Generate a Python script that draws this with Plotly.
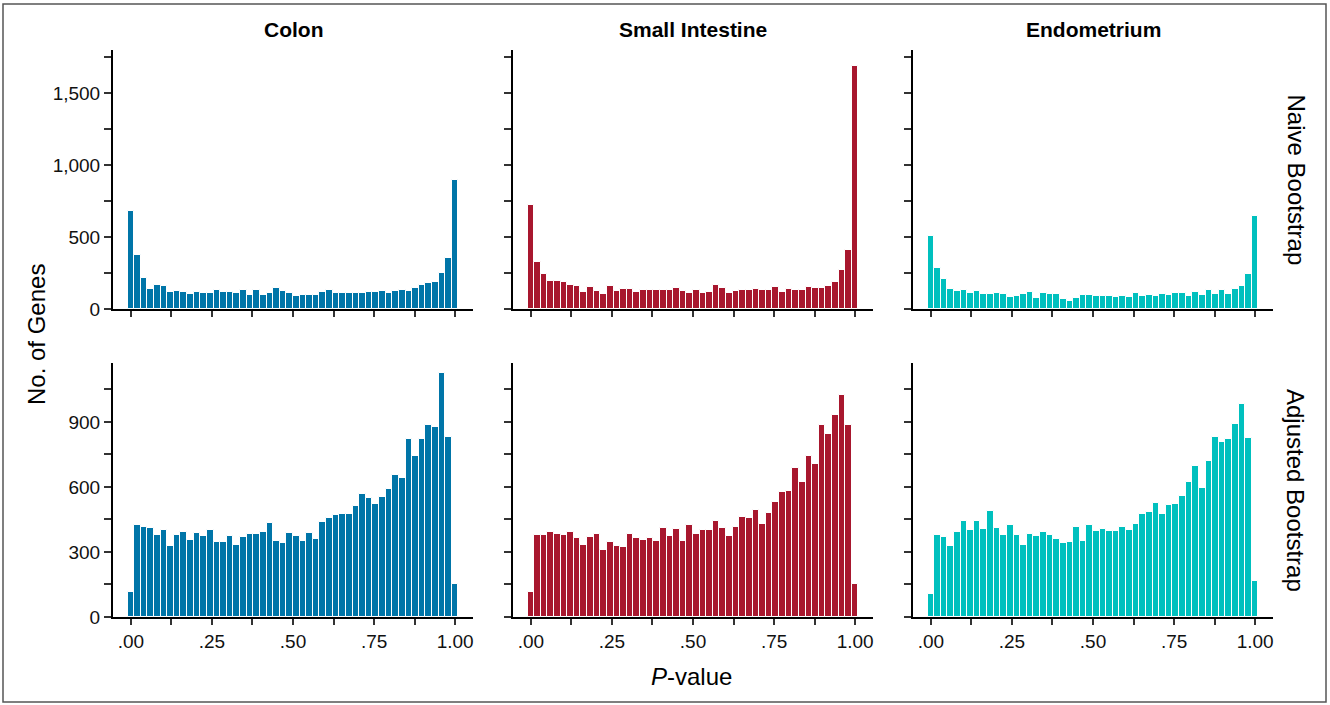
import plotly.graph_objects as go

# ---------------- data (counts per bin, 50 bins over P-value 0..1) ----------------
tissues = ["Colon", "Small Intestine", "Endometrium"]
methods = ["Naive Bootstrap", "Adjusted Bootstrap"]

colon_naive = [683, 377, 218, 141, 169, 162, 120, 127, 120, 106, 120, 113, 113, 134, 120, 120, 113, 134, 100, 134,
               100, 113, 148, 127, 113, 93, 100, 100, 100, 120, 134, 113, 113, 113, 113, 113, 120, 120, 127, 113,
               127, 134, 127, 148, 169, 183, 190, 252, 357, 898]
si_naive = [725, 329, 245, 197, 197, 190, 169, 162, 120, 155, 127, 106, 162, 127, 141, 141, 120, 134, 134, 134,
            134, 134, 148, 127, 113, 134, 113, 120, 169, 148, 113, 127, 134, 134, 141, 134, 134, 155, 120, 141,
            134, 134, 155, 148, 148, 162, 190, 273, 412, 1690]
endo_naive = [509, 287, 211, 141, 127, 134, 113, 127, 106, 106, 113, 106, 86, 93, 106, 120, 79, 113, 106, 106,
              72, 58, 79, 100, 100, 93, 93, 93, 86, 93, 86, 113, 93, 100, 93, 106, 100, 113, 113, 93,
              120, 100, 134, 106, 134, 106, 141, 162, 245, 648]

colon_adj = [117, 423, 414, 409, 377, 400, 326, 377, 391, 354, 386, 372, 400, 344, 344, 372, 330, 367, 381, 381,
             391, 432, 349, 340, 386, 372, 349, 386, 358, 437, 455, 469, 474, 474, 511, 567, 548, 520, 553, 590,
             655, 641, 821, 743, 821, 886, 877, 1127, 831, 150]
si_adj = [117, 377, 377, 391, 381, 377, 391, 363, 330, 367, 381, 307, 344, 326, 321, 381, 363, 354, 363, 349,
          409, 372, 405, 349, 423, 381, 400, 400, 442, 409, 372, 414, 460, 455, 493, 428, 479, 530, 576, 581,
          687, 622, 743, 706, 886, 845, 933, 1025, 886, 154]
endo_adj = [108, 377, 367, 326, 391, 442, 400, 442, 405, 488, 409, 377, 423, 377, 330, 381, 372, 391, 377, 358,
            340, 344, 414, 349, 423, 395, 405, 395, 395, 414, 400, 428, 474, 483, 525, 474, 516, 520, 557, 622,
            696, 594, 720, 831, 808, 821, 891, 984, 826, 164]

n_bins = 50
bin_width = 1 / (n_bins - 1)

x_tickvals = [0, 0.125, 0.25, 0.375, 0.5, 0.625, 0.75, 0.875, 1.0]
x_ticktext = [".00", "", ".25", "", ".50", "", ".75", "", "1.00"]
y_top_tickvals = [0, 250, 500, 750, 1000, 1250, 1500, 1750]
y_top_ticktext = ["0", "", "500", "", "1,000", "", "1,500", ""]
y_bot_tickvals = [0, 150, 300, 450, 600, 750, 900, 1050]
y_bot_ticktext = ["0", "", "300", "", "600", "", "900", ""]

colors = ["#0075A8", "#A8172E", "#00C0BE"]

# ---------------- layout geometry (pixels -> paper) ----------------
W, H = 1330, 705
col_px = [(113, 473), (513, 873), (913, 1273)]
row_px = [(50, 309), (363, 617)]


def px_x(v):
    return v / W


def px_y(v):
    return (H - v) / H


fig = go.Figure()

series = [[colon_naive, si_naive, endo_naive], [colon_adj, si_adj, endo_adj]]

font_family = "Liberation Sans, Arial, Helvetica, sans-serif"
axis_idx = 0
for r in range(2):
    for c in range(3):
        axis_idx += 1
        sfx = "" if axis_idx == 1 else str(axis_idx)
        fig.add_trace(go.Bar(
            x0=0, dx=bin_width, y=series[r][c], width=bin_width,
            marker=dict(color=colors[c], line=dict(color="white", width=1)),
            xaxis="x" + sfx, yaxis="y" + sfx, showlegend=False,
        ))
        xa = dict(
            domain=[px_x(col_px[c][0]), px_x(col_px[c][1])],
            range=[-0.055, 1.055],
            anchor="y" + sfx,
            showgrid=False, zeroline=False,
            showline=True, linecolor="black", linewidth=2,
            ticks="outside", ticklen=6, tickwidth=1.5, tickcolor="#333",
            tickvals=x_tickvals, ticktext=x_ticktext,
            showticklabels=(r == 1),
            tickfont=dict(size=19, color="#111", family=font_family),
            automargin=False,
        )
        if r == 0:
            yr = [0, 1800]
            tv, tt = y_top_tickvals, y_top_ticktext
        else:
            yr = [0, 1172]
            tv, tt = y_bot_tickvals, y_bot_ticktext
        ya = dict(
            domain=[px_y(row_px[r][1]), px_y(row_px[r][0])],
            range=yr,
            anchor="x" + sfx,
            showgrid=False, zeroline=False,
            showline=True, linecolor="black", linewidth=2,
            ticks="outside", ticklen=7, tickwidth=1.5, tickcolor="#333",
            tickvals=tv, ticktext=tt,
            showticklabels=(c == 0),
            tickfont=dict(size=19, color="#111", family=font_family),
            automargin=False,
        )
        fig.layout["xaxis" + sfx] = xa
        fig.layout["yaxis" + sfx] = ya

annotations = []
for c, name in enumerate(tissues):
    annotations.append(dict(
        text="<b>" + name + "</b>", x=px_x((col_px[c][0] + col_px[c][1]) / 2), y=px_y(30),
        xref="paper", yref="paper", showarrow=False, xanchor="center", yanchor="middle",
        font=dict(size=21, color="black", family=font_family),
    ))
for r, name in enumerate(methods):
    annotations.append(dict(
        text=name, x=px_x(1296), y=px_y((row_px[r][0] + row_px[r][1]) / 2),
        xref="paper", yref="paper", showarrow=False, xanchor="center", yanchor="middle",
        textangle=90, font=dict(size=24, color="black", family=font_family),
    ))
annotations.append(dict(
    text="No. of Genes", x=px_x(36), y=px_y(335),
    xref="paper", yref="paper", showarrow=False, xanchor="center", yanchor="middle",
    textangle=-90, font=dict(size=24, color="black", family=font_family),
))
annotations.append(dict(
    text="<i>P</i>-value", x=px_x(691), y=px_y(676),
    xref="paper", yref="paper", showarrow=False, xanchor="center", yanchor="middle",
    font=dict(size=24, color="black", family=font_family),
))

fig.update_layout(
    width=W, height=H,
    margin=dict(l=0, r=0, t=0, b=0),
    template="none",
    plot_bgcolor="white", paper_bgcolor="white",
    bargap=0,
    annotations=annotations,
    shapes=[dict(type="rect", xref="paper", yref="paper",
                 x0=px_x(3), x1=px_x(1326), y0=px_y(702), y1=px_y(4),
                 line=dict(color="#555", width=1.5))],
)

fig.write_html("out.html", config={"displayModeBar": False},
               post_script="document.body.style.margin='0';document.body.style.overflow='hidden';")
